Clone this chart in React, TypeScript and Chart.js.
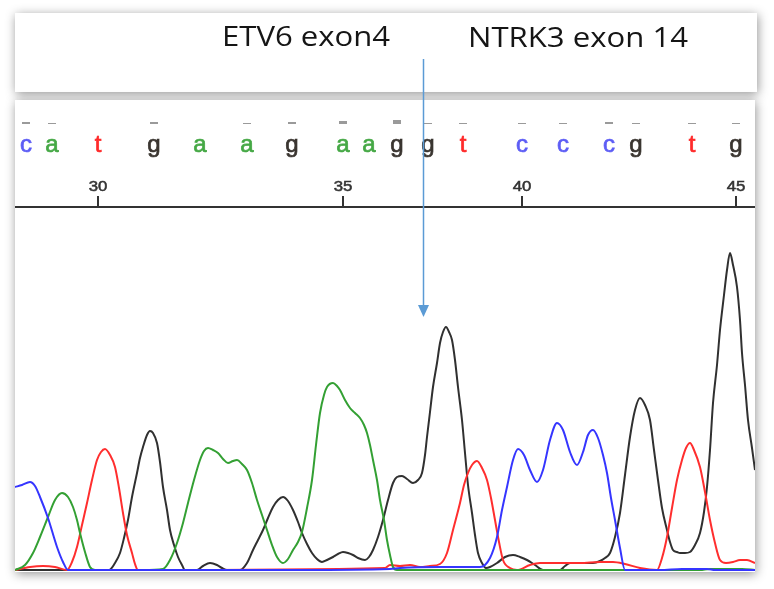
import React, { useEffect, useRef } from 'react';
import { Chart, registerables } from 'chart.js';

Chart.register(...registerables);

// ---- Data ----
// Base calls (first call is position 28), their scan positions and quality bars
const BASES = ['c', 'a', 't', 'g', 'a', 'a', 'g', 'a', 'a', 'g', 'g', 't', 'c', 'c', 'c', 'g', 't', 'g'];
const BASE_START = 28;
const BASE_SCAN = [26, 52, 98, 154, 200, 247, 292, 343, 369, 397, 428, 463, 522, 563, 609, 636, 692, 736];
const QUALITY = [2, 1, 0, 2, 0, 1, 2, 3, 0, 4, 1, 1, 1, 1, 2, 1, 1, 1];
const TICK_EVERY = 5;

const HEADER_LABELS = ['ETV6 exon4', 'NTRK3 exon 14'];
const JUNCTION_SCAN = 423;

// Trace signals [scan, intensity]
const TRACE_C: [number, number][] = [
  [15, 83], [22, 85], [30, 88], [35, 84], [40, 73], [48, 52], [57, 23], [63, 8], [68, 0], [93, 0], [120, 0],
  [200, 0], [300, 0], [390, 1], [400, 2], [440, 3], [480, 3], [490, 12], [497, 33], [502, 60], [507, 83],
  [513, 110], [518, 121], [524, 115], [530, 100], [537, 88], [543, 100], [550, 130], [557, 147], [563, 140],
  [570, 118], [577, 105], [583, 118], [588, 135], [593, 140], [598, 132], [603, 115], [607, 97], [611, 72],
  [615, 50], [620, 22], [625, 0], [660, 0], [682, 1], [707, 1], [715, 0], [755, 0],
];
const TRACE_A: [number, number][] = [
  [15, 0], [25, 5], [33, 17], [40, 33], [48, 53], [55, 70], [62, 77], [68, 73], [73, 63], [77, 50], [80, 37],
  [85, 18], [90, 3], [95, 0], [143, 0], [163, 1], [170, 10], [177, 27], [183, 47], [188, 67], [194, 90],
  [200, 110], [204, 119], [208, 122], [213, 120], [218, 117], [223, 111], [228, 107], [233, 109], [237, 110],
  [242, 106], [247, 100], [252, 87], [257, 70], [262, 55], [267, 40], [272, 25], [277, 13], [283, 7], [288, 11],
  [293, 20], [298, 28], [302, 38], [307, 62], [312, 90], [316, 125], [320, 157], [324, 175], [327, 183],
  [333, 187], [337, 184], [340, 180], [345, 170], [350, 162], [355, 157], [360, 152], [364, 145], [367, 137],
  [370, 125], [373, 110], [377, 90], [380, 70], [384, 50], [387, 30], [390, 15], [393, 3], [397, 0], [700, 0],
  [710, 1], [742, 1], [755, 0],
];
const TRACE_T: [number, number][] = [
  [15, 0], [30, 3], [43, 4], [55, 3], [67, 0], [72, 8], [77, 23], [82, 45], [87, 67], [92, 90], [97, 110],
  [101, 118], [105, 121], [110, 115], [115, 103], [119, 82], [123, 57], [127, 35], [132, 17], [135, 6], [138, 0],
  [385, 2], [390, 5], [400, 4], [410, 5], [420, 3], [430, 4], [440, 6], [447, 17], [453, 40], [460, 67], [464, 85],
  [468, 97], [472, 105], [477, 109], [482, 102], [487, 90], [491, 72], [495, 50], [499, 28], [503, 10], [510, 2],
  [517, 0], [530, 5], [540, 7], [560, 7], [580, 7], [600, 8], [613, 8], [625, 6], [640, 2], [657, 0], [662, 12],
  [667, 33], [672, 62], [677, 90], [682, 110], [686, 122], [690, 127], [694, 120], [700, 103], [705, 78],
  [710, 50], [715, 27], [720, 10], [726, 7], [733, 8], [740, 10], [747, 10], [755, 7],
];
const TRACE_G: [number, number][] = [
  [15, 0], [100, 0], [109, 0], [115, 7], [120, 17], [124, 32], [128, 50], [132, 73], [137, 97], [140, 112],
  [143, 123], [147, 135], [150, 139], [153, 137], [157, 127], [160, 108], [163, 83], [167, 60], [170, 40],
  [174, 25], [178, 13], [182, 5], [185, 0], [197, 0], [203, 4], [210, 7], [217, 5], [222, 2], [227, 0], [240, 0],
  [247, 7], [253, 20], [258, 30], [263, 40], [268, 52], [273, 63], [278, 70], [283, 73], [288, 69], [293, 60],
  [298, 48], [302, 37], [307, 26], [312, 17], [317, 11], [322, 8], [327, 10], [333, 13], [338, 16], [343, 18],
  [348, 17], [353, 15], [358, 12], [365, 10], [369, 13], [373, 20], [378, 33], [383, 50], [388, 70], [393, 87],
  [397, 93], [402, 94], [407, 91], [413, 87], [418, 90], [422, 97], [425, 115], [427, 133], [430, 158],
  [433, 183], [437, 207], [440, 227], [443, 238], [446, 243], [449, 238], [452, 230], [455, 210], [458, 183],
  [462, 150], [465, 117], [468, 85], [472, 57], [475, 35], [478, 17], [482, 7], [486, 2], [490, 3], [497, 7],
  [505, 13], [513, 15], [520, 13], [527, 10], [535, 5], [543, 0], [560, 0], [565, 4], [570, 7], [580, 7],
  [593, 7], [600, 9], [605, 12], [610, 17], [615, 33], [620, 57], [625, 95], [630, 133], [635, 160], [640, 172],
  [645, 165], [650, 150], [654, 120], [658, 90], [662, 62], [667, 40], [670, 28], [673, 20], [677, 18],
  [680, 17], [685, 17], [690, 18], [695, 25], [700, 37], [704, 58], [707, 83], [710, 120], [713, 167],
  [717, 205], [720, 240], [724, 275], [727, 300], [730, 317], [733, 305], [737, 283], [740, 250], [742, 217],
  [745, 185], [748, 150], [752, 122], [755, 100],
];

const COLORS: Record<string, string> = { c: '#3535ff', a: '#33a033', t: '#ff2e2e', g: '#303030' };
const LETTER_COLORS: Record<string, string> = { c: '#5d5df5', a: '#45a845', t: '#ff2a2a', g: '#3a3530' };

function stretchText(ctx: CanvasRenderingContext2D, text: string, x: number, y: number, font: string, sx: number, align: 'left' | 'center', stroke = 0) {
  ctx.save();
  ctx.font = font;
  ctx.textAlign = align;
  ctx.translate(x, y);
  ctx.scale(sx, 1);
  ctx.fillText(text, 0, 0);
  if (stroke > 0) {
    ctx.strokeStyle = ctx.fillStyle as string;
    ctx.lineWidth = stroke;
    ctx.strokeText(text, 0, 0);
  }
  ctx.restore();
}

const chromPlugin = {
  id: 'chrom',
  beforeDraw(chart: any) {
    const ctx: CanvasRenderingContext2D = chart.ctx;
    ctx.save();
    ctx.fillStyle = '#ffffff';
    ctx.fillRect(0, 0, chart.width, chart.height);
    ctx.shadowColor = 'rgba(0,0,0,0.42)';
    ctx.shadowBlur = 10;
    ctx.shadowOffsetX = 1;
    ctx.shadowOffsetY = 2;
    ctx.fillRect(15, 13, 742, 79);
    ctx.fillRect(15, 100, 740, 472);
    ctx.restore();
  },
  afterDatasetsDraw(chart: any) {
    const ctx: CanvasRenderingContext2D = chart.ctx;
    const xs = chart.scales.x;
    const ys = chart.scales.y;
    const area = chart.chartArea;
    ctx.save();
    // ruler
    const rulerY = area.top;
    ctx.strokeStyle = '#333';
    ctx.lineWidth = 2;
    ctx.beginPath();
    ctx.moveTo(area.left, rulerY);
    ctx.lineTo(area.right, rulerY);
    ctx.stroke();
    ctx.textBaseline = 'alphabetic';
    BASES.forEach((b, i) => {
      const num = BASE_START + i;
      const px = xs.getPixelForValue(BASE_SCAN[i]);
      if (num % TICK_EVERY === 0) {
        ctx.fillStyle = '#333';
        ctx.fillRect(px - 1, rulerY - 11, 2, 11);
        stretchText(ctx, String(num), px, rulerY - 16, '14px "Liberation Sans", Arial, sans-serif', 1.2, 'center', 0.5);
      }
      // quality dash
      const q = QUALITY[i];
      if (q > 0) {
        ctx.fillStyle = '#9a9a9a';
        ctx.fillRect(px - 4, 124 - q, 8, q);
      }
      // letter
      ctx.fillStyle = LETTER_COLORS[b];
      stretchText(ctx, b, px, 152, '24px "Liberation Sans", Arial, sans-serif', 1.0, 'center', 0.7);
    });
    // header labels
    ctx.fillStyle = '#151515';
    const hdrFont = '28px "Open Sans", sans-serif';
    ctx.font = hdrFont;
    const w0 = ctx.measureText(HEADER_LABELS[0]).width;
    const w1 = ctx.measureText(HEADER_LABELS[1]).width;
    stretchText(ctx, HEADER_LABELS[0], 222, 46, hdrFont, 168 / w0, 'left');
    stretchText(ctx, HEADER_LABELS[1], 468, 47, hdrFont, 220 / w1, 'left');
    // junction arrow
    const ax = Math.round(xs.getPixelForValue(JUNCTION_SCAN)) + 0.5;
    const tipY = ys.getPixelForValue(253);
    ctx.strokeStyle = '#5b9bd5';
    ctx.fillStyle = '#5b9bd5';
    ctx.lineWidth = 1.5;
    ctx.beginPath();
    ctx.moveTo(ax, 59);
    ctx.lineTo(ax, tipY - 10);
    ctx.stroke();
    ctx.beginPath();
    ctx.moveTo(ax - 5.5, tipY - 12);
    ctx.lineTo(ax + 5.5, tipY - 12);
    ctx.lineTo(ax, tipY);
    ctx.closePath();
    ctx.fill();
    ctx.restore();
  },
};

function toPts(arr: [number, number][]) {
  return arr.map(([x, y]) => ({ x, y }));
}

export default function App() {
  const ref = useRef<HTMLCanvasElement>(null);
  useEffect(() => {
    if (!ref.current) return;
    const mk = (label: string, data: [number, number][], color: string) => ({
      label,
      data: toPts(data),
      borderColor: color,
      backgroundColor: color,
      borderWidth: 2,
      pointRadius: 0,
      cubicInterpolationMode: 'monotone' as const,
      fill: false,
      clip: { left: 0, right: 0, top: 400, bottom: 4 },
    });
    const chart = new Chart(ref.current, {
      type: 'line',
      data: {
        datasets: [
          mk('C', TRACE_C, COLORS.c),
          mk('A', TRACE_A, COLORS.a),
          mk('T', TRACE_T, COLORS.t),
          mk('G', TRACE_G, COLORS.g),
        ],
      },
      options: {
        animation: false,
        responsive: false,
        devicePixelRatio: 1,
        layout: { padding: { left: 15, right: 19, top: 207, bottom: 19 } },
        plugins: { legend: { display: false }, tooltip: { enabled: false } },
        scales: {
          x: { type: 'linear', min: 15, max: 755, display: false },
          y: { type: 'linear', min: 0, max: 363, display: false },
        },
      },
      plugins: [chromPlugin],
    });
    return () => chart.destroy();
  }, []);
  return (
    <div style={{ position: 'fixed', left: 0, top: 0, width: 774, height: 589, background: '#fff' }}>
      <canvas ref={ref} width={774} height={589} />
    </div>
  );
}
